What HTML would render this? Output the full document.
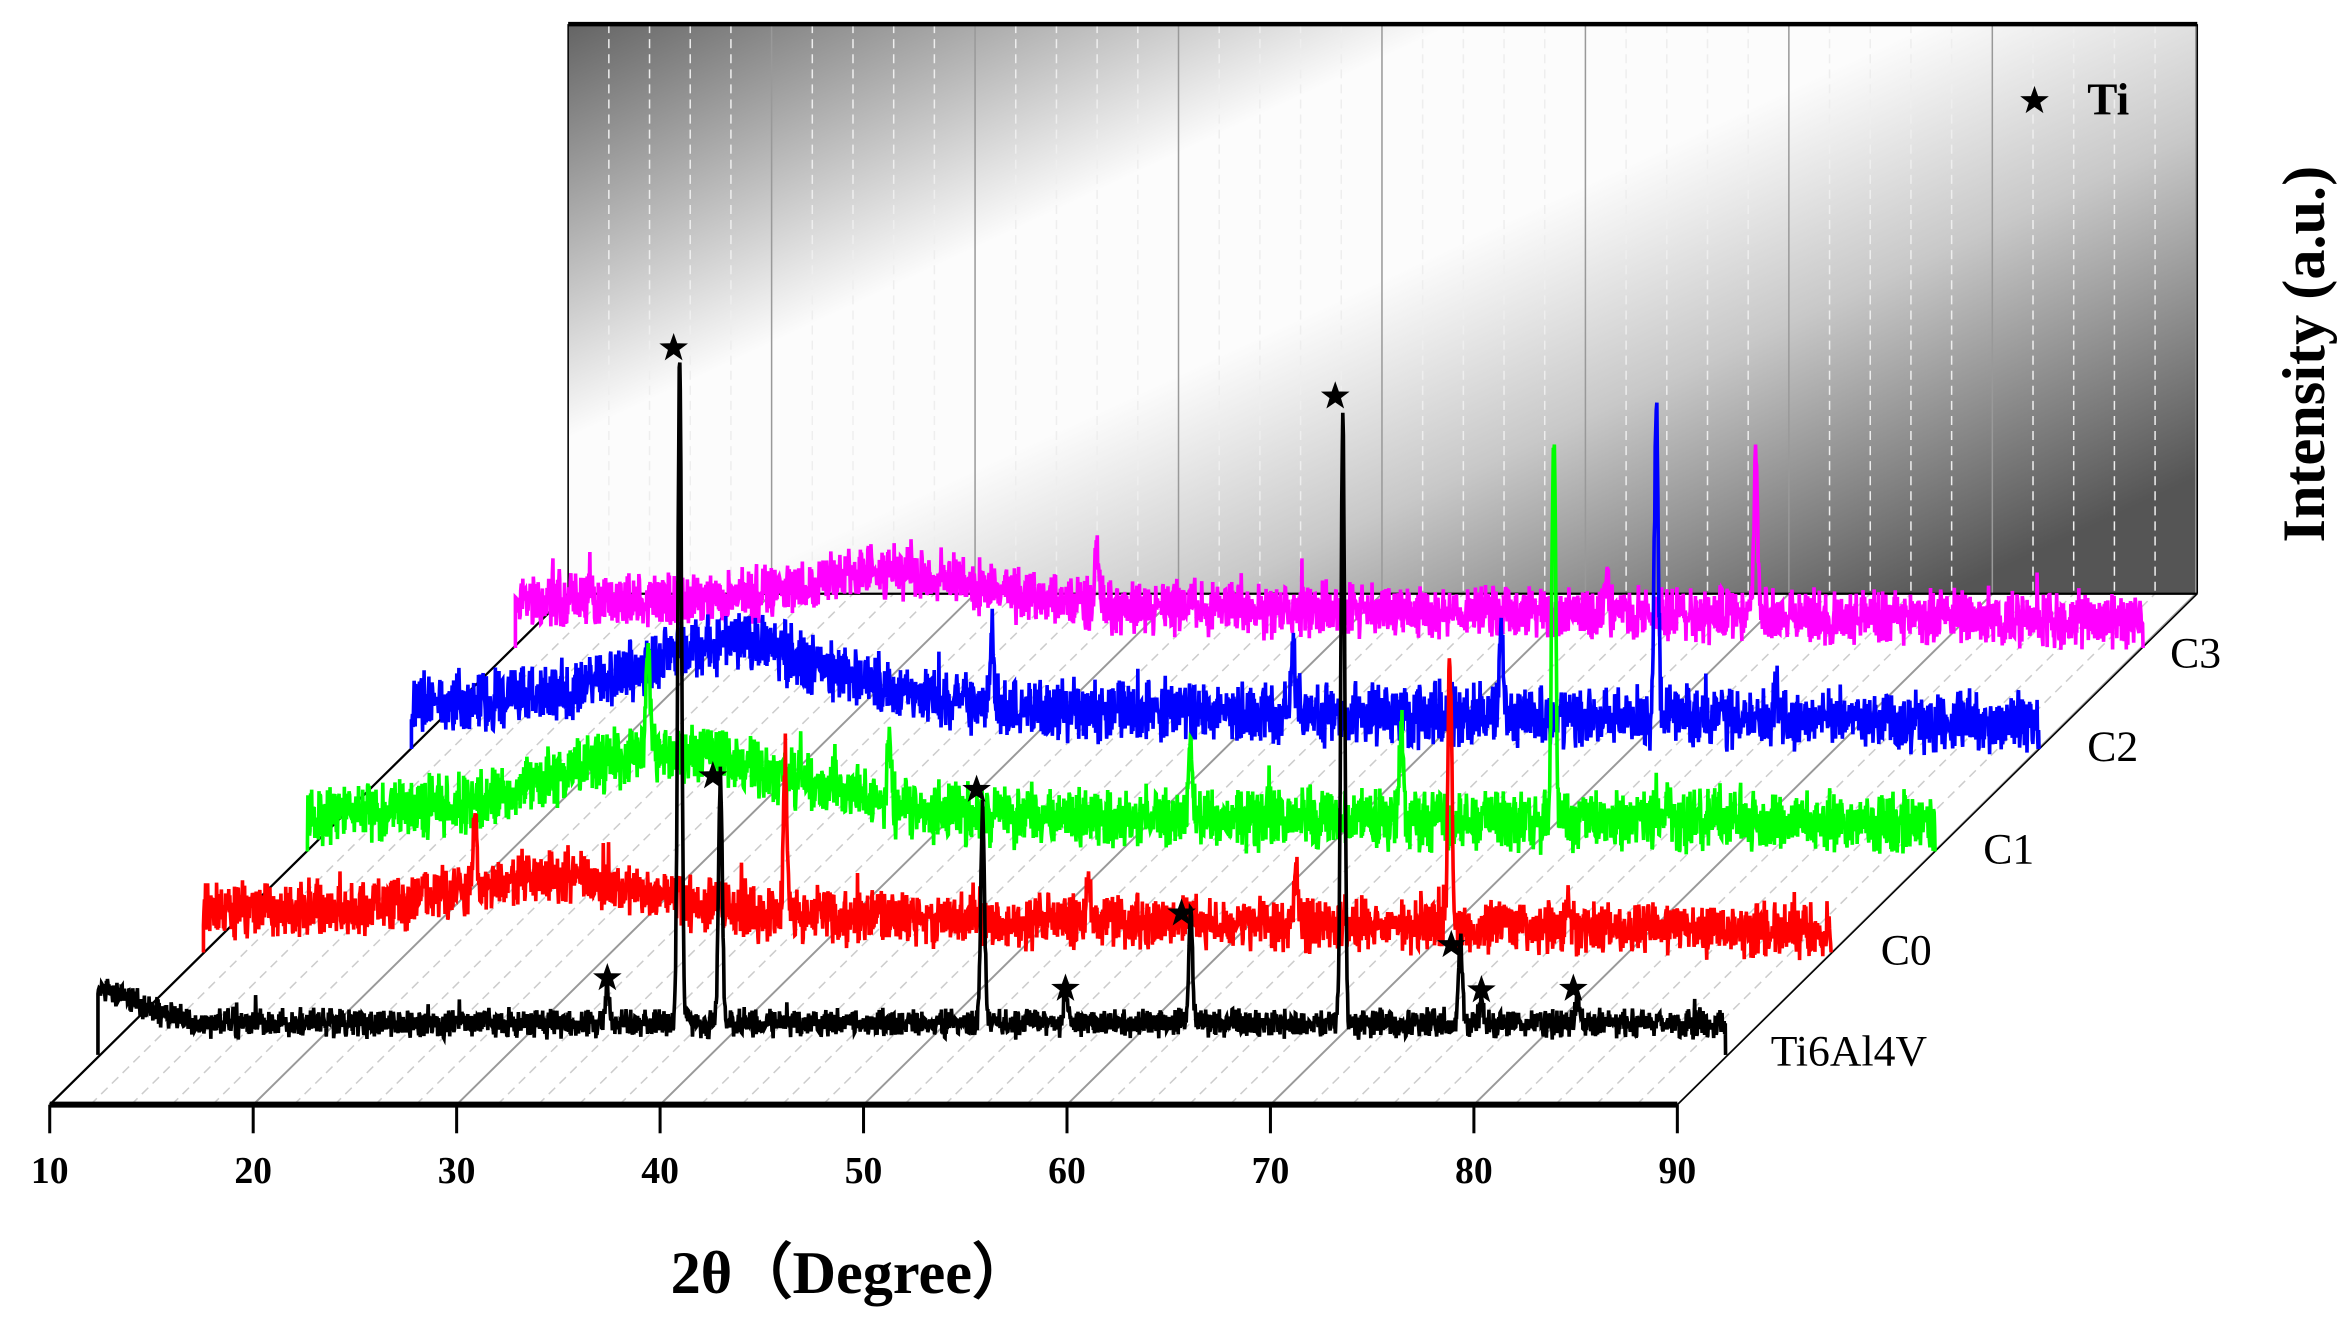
<!DOCTYPE html>
<html><head><meta charset="utf-8"><style>
html,body{margin:0;padding:0;background:#fff;}
svg{display:block;}
text{font-family:"Liberation Serif",serif;}
</style></head><body>
<svg id="s" width="2351" height="1328" viewBox="0 0 1560 881.2" preserveAspectRatio="none" xmlns="http://www.w3.org/2000/svg">
<defs>
<linearGradient id="g" x1="500" y1="-150" x2="850" y2="600" gradientUnits="userSpaceOnUse">
<stop offset="0" stop-color="#555"/>
<stop offset="0.1" stop-color="#5a5a5a"/>
<stop offset="0.42" stop-color="#fcfcfc"/>
<stop offset="0.58" stop-color="#fcfcfc"/>
<stop offset="0.75" stop-color="#c8c8c8"/>
<stop offset="1" stop-color="#555"/>
</linearGradient>
</defs>
<rect x="377" y="16" width="1081" height="378" fill="url(#g)"/>
<g id="grid"></g>
<line x1="377" y1="16" x2="1458" y2="16" stroke="#000" stroke-width="3"/>
<line x1="377" y1="16" x2="377" y2="394" stroke="#000" stroke-width="1"/>
<line x1="1458" y1="16" x2="1458" y2="394" stroke="#000" stroke-width="1"/>
<line x1="377" y1="394" x2="1458" y2="394" stroke="#000" stroke-width="1.5"/>
<line x1="33" y1="733" x2="377" y2="394" stroke="#000" stroke-width="1.5"/>
<line x1="1113" y1="733" x2="1458" y2="394" stroke="#000" stroke-width="1"/>
<g id="series"></g>
<line x1="33" y1="733" x2="1113" y2="733" stroke="#000" stroke-width="4"/>
<g id="ticks" font-size="25" font-weight="bold" text-anchor="middle"></g>
<text x="565" y="858" font-size="40" font-weight="bold" text-anchor="middle">2θ（Degree）</text>
<text transform="translate(1542,235) rotate(-90)" font-size="40" font-weight="bold" text-anchor="middle">Intensity (a.u.)</text>
<text x="1385" y="76" font-size="30" font-weight="bold">Ti</text>
<g font-size="29">
<text x="1175" y="707">Ti6Al4V</text>
<text x="1248" y="640">C0</text>
<text x="1316" y="573">C1</text>
<text x="1385" y="505">C2</text>
<text x="1440" y="443">C3</text>
</g>
</svg>
<script>
var NS="http://www.w3.org/2000/svg";
function el(t,a,p){var e=document.createElementNS(NS,t);for(var k in a)e.setAttribute(k,a[k]);p.appendChild(e);return e;}
var grid=document.getElementById('grid'),ser=document.getElementById('series'),tk=document.getElementById('ticks');
for(var d=10;d<=90;d+=2){
  var fx=33+(d-10)*13.5,bx=377+(d-10)*13.5,maj=(d%10==0);
  el('line',{x1:fx,y1:733,x2:bx,y2:394,stroke:maj?'#999':'#ccc','stroke-width':maj?1.3:1,'stroke-dasharray':maj?'none':'6,4'},grid);
  el('line',{x1:bx,y1:16,x2:bx,y2:394,stroke:maj?'#999':'#eee','stroke-width':1,'stroke-dasharray':maj?'none':'6,4'},grid);
  if(maj){el('line',{x1:fx,y1:733,x2:fx,y2:752,stroke:'#000','stroke-width':2},tk);
    var t=el('text',{x:fx,y:785},tk);t.textContent=d;}
}
var seed=7;function rnd(){seed=(seed*16807)%2147483647;return seed/2147483647;}
function star(x,y){var p=[];for(var i=0;i<10;i++){var r=i%2?4:10,a=-Math.PI/2+i*Math.PI/5;p.push((x+r*Math.cos(a)).toFixed(1)+','+(y+r*Math.sin(a)).toFixed(1));}
  el('polygon',{points:p.join(' '),fill:'#000'},ser);}
var S=[
 {c:'#ff00ff',ox:342,fy:430,b0:398,b1:412,hump:[590,22,80],noise:30,pk:[[728,40],[1066,25],[1165,100]],st:[]},
 {c:'#0000ff',ox:273,fy:497,b0:465,b1:480,hump:[490,40,90],noise:34,pk:[[658,45],[858,50],[996,55],[1099,205],[1178,20]],st:[]},
 {c:'#00ff00',ox:204,fy:565,b0:540,b1:546,hump:[450,42,110],noise:34,pk:[[430,70],[590,45],[790,50],[930,60],[1031,260],[1107,15]],st:[]},
 {c:'#ff0000',ox:135,fy:632,b0:604,b1:618,hump:[370,25,90],noise:30,pk:[[315,50],[521,90],[722,25],[860,40],[962,180],[1040,25]],st:[]},
 {c:'#000000',ox:65,fy:700,b0:679,b1:679,hump:[65,22,40],noise:16,pk:[[403,25],[451,437],[478,160],[652,140],[707,20],[790,75],[891,400],[969,55],[983,15],[1047,15]],st:[[403,649],[447,231],[473,515],[648,524],[707,656],[784,606],[886,263],[963,627],[983,657],[1044,656]]}
];
S.forEach(function(s){
  var x1=s.ox+1080,pts=[[s.ox,s.fy]];
  for(var x=s.ox;x<=x1;x+=0.35){
    var f=(x-s.ox)/1080,y=s.b0+(s.b1-s.b0)*f;
    var h=s.hump;y-=h[1]*Math.exp(-Math.pow((x-h[0])/h[2],2));
    var r=(rnd()+rnd())/2-0.5;
    y+=r*s.noise*1.4;
    if(rnd()<0.02)y-=s.noise*0.6*rnd();
    s.pk.forEach(function(p){y-=p[1]*Math.exp(-Math.pow((x-p[0])/1.8,2));});
    pts.push([x,y]);
  }
  pts.push([x1,s.fy]);
  el('path',{d:'M'+pts.map(function(p){return p[0].toFixed(1)+','+p[1].toFixed(1);}).join('L'),fill:'none',stroke:s.c,'stroke-width':2.4},ser);
  s.st.forEach(function(p){star(p[0],p[1]);});
});
star(1350,67);
</script>
</body></html>
